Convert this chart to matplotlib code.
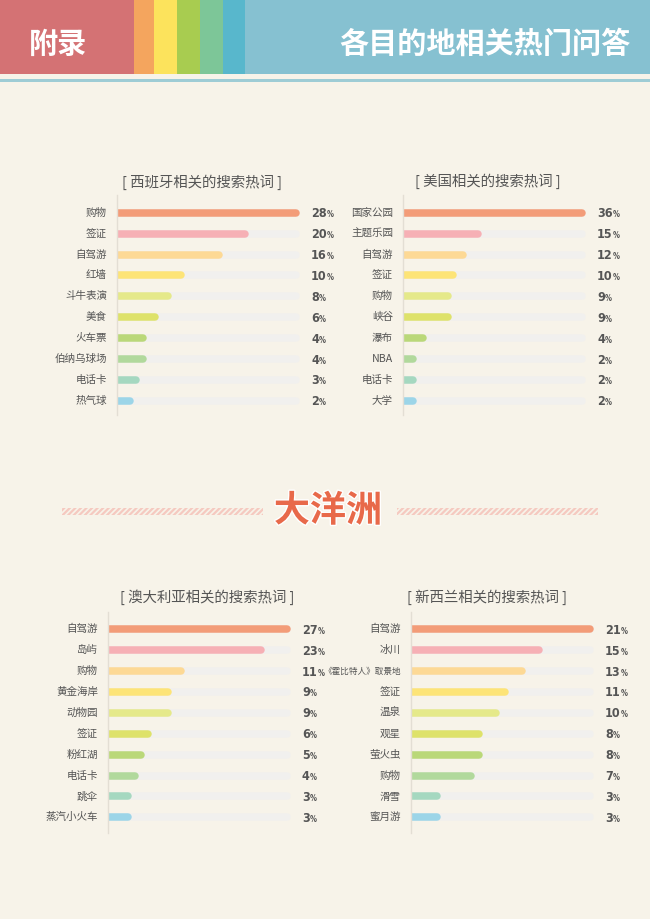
import matplotlib
matplotlib.use('Agg')
import matplotlib.pyplot as plt
from matplotlib.patches import Rectangle
import matplotlib.patheffects as pe

plt.rcParams['font.family'] = ['Noto Sans CJK SC', 'DejaVu Sans']
plt.rcParams['hatch.linewidth'] = 1.6

# 数据
spain_labels = ['购物', '签证', '自驾游', '红墙', '斗牛表演', '美食', '火车票', '伯纳乌球场', '电话卡', '热气球']
spain_values = [28, 20, 16, 10, 8, 6, 4, 4, 3, 2]
usa_labels = ['国家公园', '主题乐园', '自驾游', '签证', '购物', '峡谷', '瀑布', 'NBA', '电话卡', '大学']
usa_values = [36, 15, 12, 10, 9, 9, 4, 2, 2, 2]
au_labels = ['自驾游', '岛屿', '购物', '黄金海岸', '动物园', '签证', '粉红湖', '电话卡', '跳伞', '蒸汽小火车']
au_values = [27, 23, 11, 9, 9, 6, 5, 4, 3, 3]
nz_labels = ['自驾游', '冰川', '《霍比特人》取景地', '签证', '温泉', '观星', '萤火虫', '购物', '滑雪', '蜜月游']
nz_values = [21, 15, 13, 11, 10, 8, 8, 7, 3, 3]
panel_titles = ['[ 西班牙相关的搜索热词 ]', '[ 美国相关的搜索热词 ]',
                '[ 澳大利亚相关的搜索热词 ]', '[ 新西兰相关的搜索热词 ]']

bar_colors = ['#F39C78', '#F6B0B5', '#FDD995', '#FDE477', '#E5E98A',
              '#DEE26A', '#BAD879', '#B1D99C', '#A5D8C0', '#9CD5E8']
bg = '#F7F3E9'
track = '#F1F0EE'
text_c = '#555555'
num_font = dict(family='DejaVu Sans', fontstretch='condensed', fontweight='bold')

W, H = 650, 919
fig = plt.figure(figsize=(W / 100, H / 100), dpi=100, facecolor=bg)


def fx(x):
    return x / W


def fy(y):
    return 1 - y / H


# 页眉色块
header = [(0, 134, '#D47274'), (134, 154, '#F4A55E'), (154, 177, '#FCE35C'),
          (177, 200, '#A8CC50'), (200, 223, '#7DC698'), (223, 245, '#58B7CC'),
          (245, 650, '#86C1D1')]
for x0, x1, c in header:
    fig.add_artist(Rectangle((fx(x0), fy(74)), fx(x1) - fx(x0), 74 / H,
                             transform=fig.transFigure, facecolor=c, edgecolor='none'))
fig.add_artist(Rectangle((0, fy(82)), 1, 3 / H, transform=fig.transFigure,
                         facecolor='#9ECCD5', edgecolor='none'))
fig.text(fx(58), fy(44), '附录', color='white', fontsize=21, fontweight='heavy',
         ha='center', va='center')
fig.text(fx(631), fy(44), '各目的地相关热门问答', color='white', fontsize=21,
         fontweight='heavy', ha='right', va='center')

# 大洋洲 分隔
for x0, x1 in [(62, 263), (397, 598)]:
    fig.add_artist(Rectangle((fx(x0), fy(515)), fx(x1) - fx(x0), 7 / H,
                             transform=fig.transFigure, facecolor='none',
                             edgecolor='#F5C9C0', linewidth=0, hatch='//////'))
fig.text(fx(328), fy(511), '大洋洲', color='#E8694A', fontsize=26, fontweight='heavy',
         ha='center', va='center',
         path_effects=[pe.withStroke(linewidth=2, foreground='white')])

# 面板布局: 轴线x, 条形末端x, 首条y, 轴线上端, 轴线下端, 标题中心
layouts = [
    (117, 300, 212.7, 195, 415, 202, 182),
    (403, 586, 212.7, 195, 415, 488, 181),
    (108, 291, 629.3, 612, 833, 207, 597),
    (411, 594, 629.3, 612, 833, 487, 597),
]
panels = [(spain_labels, spain_values), (usa_labels, usa_values),
          (au_labels, au_values), (nz_labels, nz_values)]

gap = 20.9
lw_px = 7.5
cap = lw_px / 2
num_texts = []

for (labels, values), title, (L, E, y0, top, bot, tcx, tcy) in zip(panels, panel_titles, layouts):
    right = E + 8
    ax = fig.add_axes([fx(L), fy(bot), fx(right) - fx(L), (bot - top) / H])
    ax.set_facecolor('none')
    vmax = max(values)
    ax.set_xlim(0, vmax * (right - L) / (E - cap - L))
    ax.set_ylim((bot - y0) / gap, (top - y0) / gap)
    for s in ['top', 'right', 'bottom']:
        ax.spines[s].set_visible(False)
    ax.spines['left'].set_color('#E3DED4')
    ax.spines['left'].set_linewidth(1)
    ax.spines['left'].set_zorder(5)
    ax.set_xticks([])
    ax.set_yticks([])

    lw = lw_px * 72 / 100
    for i, (lab, v) in enumerate(zip(labels, values)):
        ax.plot([0, vmax], [i, i], color=track, lw=lw, solid_capstyle='round', zorder=1)
        ax.plot([0, v], [i, i], color=bar_colors[i], lw=lw, solid_capstyle='round', zorder=2)
        ax.annotate(lab, xy=(0, i), xytext=(-10, 0), textcoords='offset pixels',
                    ha='right', va='center', fontsize=7.6 if len(lab) < 7 else 6.2,
                    color=text_c)
        t = ax.annotate(str(v), xy=(vmax, i), xytext=(cap + 11, -4.5),
                        textcoords='offset pixels', ha='left', va='baseline',
                        fontsize=9, color=text_c, **num_font)
        num_texts.append((ax, t, vmax, i))

    fig.text(fx(tcx), fy(tcy), title, ha='center', va='center', fontsize=10.4, color=text_c)

# 百分号
fig.canvas.draw()
renderer = fig.canvas.get_renderer()
for ax, t, vmax, i in num_texts:
    bb = t.get_window_extent(renderer)
    xb, yb = ax.transData.transform((vmax, i))
    ax.annotate('%', xy=(bb.x1 + 0.2, yb - 4.5), xycoords='figure pixels',
                ha='left', va='baseline', fontsize=5.5, color=text_c, **num_font)

fig.savefig('out.png', dpi=100, facecolor=bg)
